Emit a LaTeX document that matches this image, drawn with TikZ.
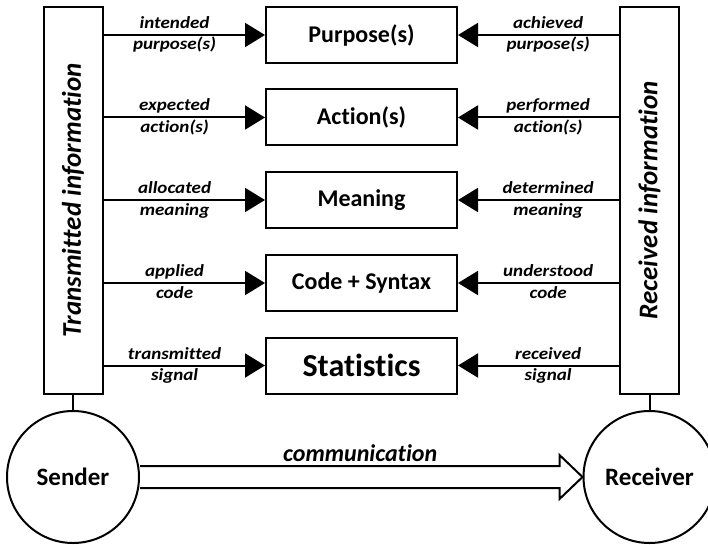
\documentclass[tikz,border=0pt]{standalone}
\usepackage{fontspec}
\setmainfont{Carlito}[Ligatures=NoCommon]
\newfontfamily\lblfont{Carlito}[Ligatures=NoCommon,FakeStretch=1.12]
\usetikzlibrary{arrows.meta,calc}

\begin{document}
\begin{tikzpicture}[x=1pt,y=-1pt,line width=2pt,
    layer/.style={draw,minimum width=191pt,minimum height=56pt,font=\bfseries\fontsize{24}{24}\selectfont},
    infobar/.style={draw,minimum width=59pt,minimum height=387pt,font=\bfseries\itshape\fontsize{27}{27}\selectfont},
    party/.style={draw,circle,minimum size=132pt,inner sep=0pt,font=\bfseries\fontsize{25}{25}\selectfont},
    flow/.style={-{Triangle[length=20pt,width=24pt]}},
    lbl/.style={font=\lblfont\bfseries\itshape\fontsize{17}{17}\selectfont,inner sep=2pt,text height=12pt,text depth=3.5pt}]
    \useasboundingbox (0,0) rectangle (708,545);

    % 绘制两侧的信息条
    \node[infobar] (tx) at (73,200.5) {\rotatebox{90}{Transmitted information}};
    \node[infobar] (rx) at (649.5,200.5) {\rotatebox{90}{Received information}};

    % 绘制中间的五个层次
    \node[layer] (purpose) at (361.5,35) {Purpose(s)};
    \node[layer] (action) at (361.5,117.5) {Action(s)};
    \node[layer] (meaning) at (361.5,200) {Meaning};
    \node[layer] (code) at (361.5,283) {Code + Syntax};
    \node[layer,font=\bfseries\fontsize{32}{32}\selectfont] (stats) at (361.5,365.5) {Statistics};

    % 绘制发送方一侧的箭头
    \draw[flow] (tx.east |- purpose.west) -- (purpose.west)
        node[pos=0.44,above,lbl] {intended} node[pos=0.44,below,lbl] {purpose(s)};
    \draw[flow] (tx.east |- action.west) -- (action.west)
        node[pos=0.44,above,lbl] {expected} node[pos=0.44,below,lbl] {action(s)};
    \draw[flow] (tx.east |- meaning.west) -- (meaning.west)
        node[pos=0.44,above,lbl] {allocated} node[pos=0.44,below,lbl] {meaning};
    \draw[flow] (tx.east |- code.west) -- (code.west)
        node[pos=0.44,above,lbl] {applied} node[pos=0.44,below,lbl] {code};
    \draw[flow] (tx.east |- stats.west) -- (stats.west)
        node[pos=0.44,above,lbl] {transmitted} node[pos=0.44,below,lbl] {signal};

    % 绘制接收方一侧的箭头
    \draw[flow] (rx.west |- purpose.east) -- (purpose.east)
        node[pos=0.44,above,lbl] {achieved} node[pos=0.44,below,lbl] {purpose(s)};
    \draw[flow] (rx.west |- action.east) -- (action.east)
        node[pos=0.44,above,lbl] {performed} node[pos=0.44,below,lbl] {action(s)};
    \draw[flow] (rx.west |- meaning.east) -- (meaning.east)
        node[pos=0.44,above,lbl] {determined} node[pos=0.44,below,lbl] {meaning};
    \draw[flow] (rx.west |- code.east) -- (code.east)
        node[pos=0.44,above,lbl] {understood} node[pos=0.44,below,lbl] {code};
    \draw[flow] (rx.west |- stats.east) -- (stats.east)
        node[pos=0.44,above,lbl] {received} node[pos=0.44,below,lbl] {signal};

    % 绘制发送方和接收方
    \node[party] (sender) at (73,477) {Sender};
    \node[party] (receiver) at (649.5,477) {Receiver};
    \draw (tx.south) -- (sender.north);
    \draw (rx.south) -- (receiver.north);

    % 绘制空心的通信箭头
    \draw[line join=miter] ($(sender.east)+(0,-11)$) -- ($(receiver.west)+(-23,-11)$)
        node[pos=0.525,above,inner sep=3pt,font=\bfseries\itshape\fontsize{24}{24}\selectfont] {communication}
        -- ($(receiver.west)+(-23,-22)$) -- (receiver.west)
        -- ($(receiver.west)+(-23,22)$) -- ($(receiver.west)+(-23,11)$)
        -- ($(sender.east)+(0,11)$);

\end{tikzpicture}
\end{document}
